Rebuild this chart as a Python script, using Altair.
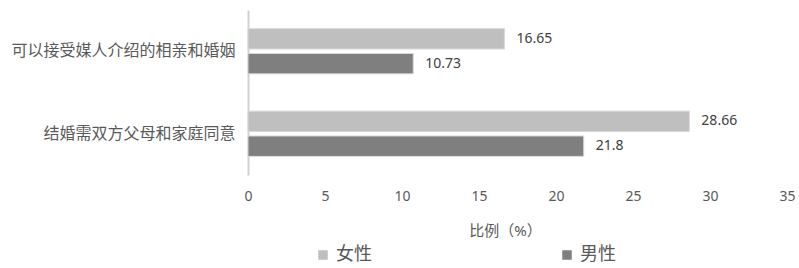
import altair as alt
import pandas as pd

# Survey items and share of respondents (%) by gender
items = ["可以接受媒人介绍的相亲和婚姻", "结婚需双方父母和家庭同意"]
genders = ["女性", "男性"]
female = [16.65, 28.66]
male = [10.73, 21.8]
value_text = [["16.65", "28.66"], ["10.73", "21.8"]]
x_ticks = [0, 5, 10, 15, 20, 25, 30, 35]

rows = []
for gi, (g, vals) in enumerate(zip(genders, [female, male])):
    for ii, it in enumerate(items):
        rows.append({"item": it, "gender": g, "value": vals[ii], "label": value_text[gi][ii]})
df = pd.DataFrame(rows)

FONT = "Noto Sans, Noto Sans CJK SC"
colors = ["#bfbfbf", "#7f7f7f"]

y_enc = alt.Y(
    "item:N",
    sort=items,
    scale=alt.Scale(paddingInner=0.0, paddingOuter=0.0),
    axis=alt.Axis(
        title=None, ticks=False, domain=True, domainColor="#d0d0d0", domainWidth=2,
        labelFontSize=16, labelColor="#595959", labelPadding=13, labelFont=FONT,
        labelLimit=300,
    ),
)
yoff = alt.YOffset(
    "gender:N", sort=genders,
    scale=alt.Scale(paddingInner=0.18, paddingOuter=0.75),
)
x_enc = alt.X(
    "value:Q",
    scale=alt.Scale(domain=[0, 35], nice=False),
    axis=alt.Axis(
        values=x_ticks, grid=False, ticks=False, domain=False,
        labelFontSize=14, labelColor="#595959", labelPadding=14, labelFont=FONT,
        labelFlush=False,
        title="比例（%）", titleFontSize=15, titleColor="#595959", titleFont=FONT,
        titleFontWeight="normal", titlePadding=20, titleX=257,
    ),
)

bars = alt.Chart(df).mark_bar(stroke="#d8d8d8", strokeWidth=1).encode(
    y=y_enc,
    yOffset=yoff,
    x=x_enc,
    color=alt.Color(
        "gender:N", sort=genders,
        scale=alt.Scale(domain=genders, range=colors),
        legend=alt.Legend(
            title=None, orient="none", direction="horizontal",
            legendX=66, legendY=236, symbolType="square", symbolSize=90,
            symbolStrokeWidth=0, labelFontSize=18, labelColor="#595959",
            labelFont=FONT, columnPadding=186, labelOffset=4,
        ),
    ),
)

texts = alt.Chart(df).mark_text(
    align="left", baseline="middle", dx=12, fontSize=14, color="#404040", font=FONT,
).encode(
    y=alt.Y("item:N", sort=items),
    yOffset=alt.YOffset("gender:N", sort=genders),
    x="value:Q",
    text="label:N",
)

chart = (
    alt.layer(bars, texts)
    .properties(
        width=539, height=165,
        autosize=alt.AutoSizeParams(type="none"),
        padding={"left": 248, "top": 10, "right": 12, "bottom": 93},
        background="white",
    )
    .configure_view(stroke=None)
)

chart.save("out.html", embed_options={"renderer": "svg", "actions": False})
